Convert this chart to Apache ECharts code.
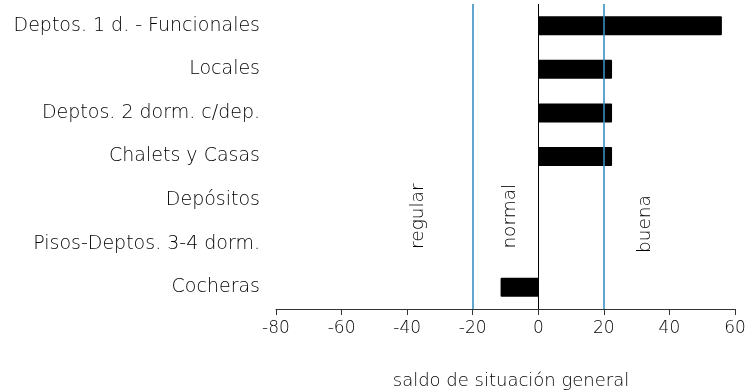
<!DOCTYPE html>
<html>
<head>
<meta charset="utf-8">
<script src="https://cdn.jsdelivr.net/npm/echarts@6/dist/echarts.min.js"></script>
<style>html,body{margin:0;padding:0;background:#fff}#c{width:746px;height:391px}</style>
</head>
<body>
<div id="c"></div>
<script>
const categories = ['Deptos. 1 d. - Funcionales','Locales','Deptos. 2 dorm. c/dep.','Chalets y Casas','Depósitos','Pisos-Deptos. 3-4 dorm.','Cocheras'];
const values = [56, 22.5, 22.5, 22.5, 0, 0, -11.5];
const xTicks = [-80, -60, -40, -20, 0, 20, 40, 60];
const thresholds = [-20, 20];
const zoneLabels = ['regular', 'normal', 'buena'];
const zoneLabelValues = [-36.7, -8.6, 32.5];

const FONT = 'DejaVu Sans';
const W = 200;
const TXT = '#000';
const chart = echarts.init(document.getElementById('c'));
chart.setOption({
  animation: false,
  grid: {left: 276, right: 11, top: 4, bottom: 82, outerBoundsMode: 'none', containLabel: false},
  xAxis: {
    type: 'value', min: xTicks[0], max: xTicks[xTicks.length-1], interval: 20,
    position: 'bottom',
    axisLine: {show: true, onZero: false, lineStyle: {color: '#333', width: 1}},
    axisTick: {show: true, length: 6, lineStyle: {color: '#333'}},
    splitLine: {show: false},
    axisLabel: {color: TXT, fontFamily: FONT, fontWeight: W, fontSize: 17, margin: 11},
    name: 'saldo de situación general', nameLocation: 'middle', nameGap: 63,
    nameTextStyle: {color: TXT, fontFamily: FONT, fontWeight: W, fontSize: 18, padding: [0,0,0,11]}
  },
  yAxis: {
    type: 'category', data: categories, inverse: true,
    axisLine: {show: false}, axisTick: {show: false},
    axisLabel: {color: TXT, fontFamily: FONT, fontWeight: W, fontSize: 19, margin: 16}
  },
  series: [{
    type: 'bar', data: values, barWidth: 19,
    itemStyle: {color: '#000', borderRadius: 1},
    markLine: {
      silent: true, symbol: 'none', label: {show: false},
      data: [
        {xAxis: 0, lineStyle: {color: '#000', width: 1, type: 'solid'}},
        ...thresholds.map(t => ({xAxis: t, lineStyle: {color: '#3a8fbf', width: 1.6, type: 'solid'}}))
      ]
    }
  }]
});
const yA = chart.convertToPixel({yAxisIndex: 0}, categories[4]);
const yB = chart.convertToPixel({yAxisIndex: 0}, categories[5]);
const yOff = [0.37, 0.37, 0.55];
chart.setOption({
  graphic: zoneLabels.map((t, i) => ({
    type: 'text', rotation: Math.PI/2,
    x: chart.convertToPixel({xAxisIndex: 0}, zoneLabelValues[i]),
    y: yA + (yB - yA) * yOff[i],
    style: {text: t, fill: TXT, font: W + ' 18.5px "' + FONT + '"', textAlign: 'center', textVerticalAlign: 'middle'}
  }))
});
</script>
</body>
</html>
